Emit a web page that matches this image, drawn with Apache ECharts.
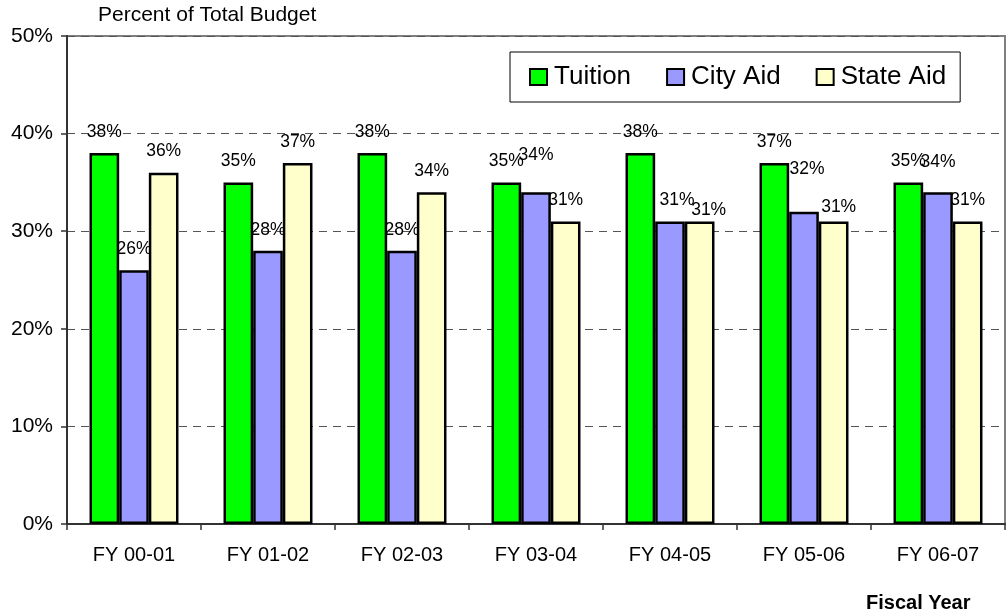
<!DOCTYPE html>
<html>
<head>
<meta charset="utf-8">
<script src="https://cdn.jsdelivr.net/npm/echarts@6/dist/echarts.min.js"></script>
<style>
html,body{margin:0;padding:0;background:#fff;}
#chart{width:1007px;height:613px;}
</style>
</head>
<body>
<div id="chart"></div>
<script>
var categories = ['FY 00-01','FY 01-02','FY 02-03','FY 03-04','FY 04-05','FY 05-06','FY 06-07'];
var tuition  = [38, 35, 38, 35, 38, 37, 35];
var cityAid  = [26, 28, 28, 34, 31, 32, 34];
var stateAid = [36, 37, 34, 31, 31, 31, 31];
var seriesNames = ['Tuition', 'City Aid', 'State Aid'];
var yTicks = [0, 10, 20, 30, 40, 50];

// manual label nudges (as in the source chart), [dx, dy] in px
var cityNudge  = [[0,0],[0,0],[0,0],[0,-16],[7,0],[3,-22],[0,-9]];
var stateNudge = [[0,0],[0,0],[0,0],[0,0],[9,10],[5,7],[0,0]];

var FONT = "'Liberation Sans', Arial, sans-serif";

function build(vals, nudges) {
  return vals.map(function (v, i) {
    var o = { value: v };
    if (nudges && (nudges[i][0] || nudges[i][1])) {
      o.label = { offset: nudges[i] };
    }
    return o;
  });
}

function barSeries(name, vals, color, nudges) {
  return {
    name: name,
    type: 'bar',
    data: build(vals, nudges),
    barGap: '0%',
    barCategoryGap: '33.6%',
    itemStyle: { color: color, borderColor: '#000', borderWidth: 2.5 },
    label: {
      show: true,
      position: 'top',
      distance: 12,
      formatter: '{c}%',
      color: '#000',
      fontSize: 17.5,
      fontFamily: FONT
    },
    emphasis: { disabled: true }
  };
}

var chart = echarts.init(document.getElementById('chart'));
chart.setOption({
  animation: false,
  backgroundColor: '#fff',
  title: [
    { text: 'Percent of Total Budget', left: 93, top: 0,
      textStyle: { fontSize: 21, fontWeight: 'normal', color: '#000', fontFamily: FONT } },
    { text: 'Fiscal Year', left: 861, top: 588,
      textStyle: { fontSize: 20, fontWeight: 'bold', color: '#000', fontFamily: FONT } }
  ],
  legend: {
    data: seriesNames,
    icon: 'rect',
    left: 510, top: 52,
    padding: [12, 14, 12, 19],
    itemGap: 35,
    itemWidth: 17, itemHeight: 16,
    borderColor: '#000', borderWidth: 1,
    backgroundColor: '#fff',
    textStyle: { fontSize: 26, color: '#000', fontFamily: FONT, padding: [0, 0, 0, 2] }
  },
  grid: {
    left: 67, right: 2, top: 36, bottom: 89,
    show: true, borderColor: '#808080', borderWidth: 2, backgroundColor: 'transparent'
  },
  xAxis: {
    type: 'category',
    data: categories,
    axisLine: { lineStyle: { color: '#333', width: 2 } },
    axisTick: { show: true, alignWithLabel: false, length: 6, lineStyle: { color: '#333', width: 1.5 } },
    axisLabel: { margin: 21, fontSize: 20, color: '#000', fontFamily: FONT }
  },
  yAxis: {
    type: 'value',
    min: yTicks[0], max: yTicks[yTicks.length - 1], interval: 10,
    axisLine: { show: true, lineStyle: { color: '#333', width: 2 } },
    axisTick: { show: true, length: 6, lineStyle: { color: '#333', width: 1.5 } },
    axisLabel: { margin: 14, fontSize: 21, color: '#000', fontFamily: FONT, formatter: '{value}%' },
    splitLine: { show: true, lineStyle: { color: '#555', type: [8, 6], width: 1 } }
  },
  series: [
    barSeries(seriesNames[0], tuition, '#00FF00', null),
    barSeries(seriesNames[1], cityAid, '#9999FF', cityNudge),
    barSeries(seriesNames[2], stateAid, '#FFFFCC', stateNudge)
  ]
});
</script>
</body>
</html>
